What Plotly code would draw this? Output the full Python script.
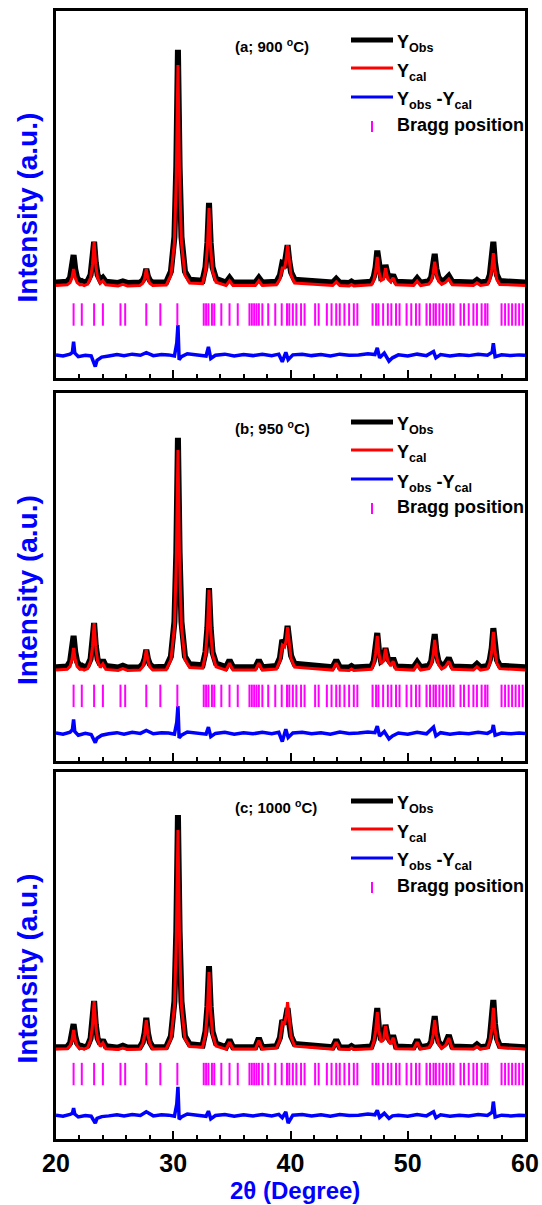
import plotly.graph_objects as go

# ---------------- data ----------------
X_PROF = [
    20.0, 20.95, 21.2, 21.36, 21.5, 21.64, 21.8, 22.05, 22.2, 22.4,
    22.7, 22.95, 23.11, 23.25, 23.39, 23.55, 23.78, 24.0, 24.25, 25.3,
    25.7, 26.1, 27.15, 27.4, 27.56, 27.7, 27.84, 28.0, 28.25, 29.4,
    29.8, 30.1, 30.26, 30.4, 30.54, 30.7, 31.0, 31.4, 32.5, 32.75,
    32.91, 33.05, 33.19, 33.35, 33.65, 34.5, 34.8, 35.1, 37.0, 37.3,
    37.6, 38.8, 39.1, 39.3, 39.5, 39.63, 39.75, 39.89, 40.05, 40.35,
    43.6, 43.9, 44.2, 45.0, 45.2, 45.4, 46.9, 47.1, 47.26, 47.4,
    47.54, 47.72, 47.95, 48.1, 48.3, 48.55, 48.75, 49.0, 50.5, 50.8,
    51.1, 51.8, 52.0, 52.16, 52.3, 52.44, 52.62, 52.9, 53.2, 53.5,
    53.8, 55.6, 55.9, 56.2, 56.8, 57.0, 57.16, 57.3, 57.44, 57.6,
    57.85, 60.0,
]

OBS_A = [
    26.0, 26.2, 27.3, 29.7, 33.5, 29.7, 27.3, 26.2, 26.4, 26.0,
    26.4, 28.1, 31.5, 37.1, 31.5, 28.1, 26.6, 27.3, 26.2, 25.9,
    26.3, 25.9, 26.0, 26.6, 27.7, 29.7, 27.7, 26.6, 26.0, 26.1,
    29.0, 38.5, 57.6, 89.4, 57.6, 38.5, 29.0, 26.8, 26.5, 30.2,
    36.8, 47.7, 36.8, 30.2, 27.0, 26.0, 27.3, 26.0, 26.0, 27.3,
    26.0, 26.2, 28.0, 31.3, 31.0, 33.0, 36.2, 32.0, 28.8, 26.8,
    26.0, 27.0, 26.0, 25.9, 26.3, 25.9, 26.2, 27.6, 30.2, 34.7,
    30.2, 27.6, 28.0, 30.8, 28.0, 27.0, 28.1, 26.2, 26.0, 27.2,
    26.0, 26.4, 27.4, 29.8, 33.8, 29.8, 27.4, 26.3, 26.8, 27.8,
    26.2, 26.0, 26.7, 26.0, 26.3, 28.1, 31.5, 37.1, 31.5, 28.1,
    26.4, 26.0,
]
CAL_A = [
    25.2, 25.4, 26.0, 27.3, 29.7, 27.3, 26.0, 25.4, 25.5, 25.2,
    25.6, 27.3, 30.8, 37.1, 30.8, 27.3, 25.8, 26.5, 25.4, 25.1,
    25.5, 25.1, 25.2, 25.8, 27.1, 29.7, 27.1, 25.8, 25.2, 25.3,
    28.0, 37.0, 55.0, 85.3, 55.0, 37.0, 28.0, 25.9, 25.7, 29.2,
    35.6, 46.3, 35.6, 29.2, 26.1, 25.2, 26.5, 25.2, 25.2, 26.5,
    25.2, 25.4, 27.0, 30.0, 30.0, 32.4, 36.2, 31.5, 28.0, 25.9,
    25.2, 26.2, 25.2, 25.1, 25.5, 25.1, 25.4, 26.6, 29.0, 33.0,
    29.0, 26.6, 27.0, 29.9, 27.0, 26.2, 27.3, 25.4, 25.2, 26.4,
    25.2, 25.6, 26.4, 28.4, 31.7, 28.4, 26.4, 25.5, 26.0, 27.0,
    25.4, 25.2, 25.9, 25.2, 25.5, 26.8, 29.5, 34.0, 29.5, 26.8,
    25.5, 25.2,
]
OBS_B = [
    25.5, 25.7, 27.0, 29.7, 34.0, 29.7, 27.0, 25.7, 25.9, 25.5,
    25.9, 27.7, 31.4, 37.5, 31.4, 27.7, 26.2, 27.4, 25.8, 25.4,
    25.9, 25.4, 25.5, 26.3, 27.8, 30.2, 27.8, 26.3, 25.5, 25.6,
    28.4, 37.8, 56.6, 87.8, 56.6, 37.8, 28.4, 26.3, 26.0, 29.6,
    36.2, 47.0, 36.2, 29.6, 26.5, 25.5, 27.4, 25.5, 25.5, 27.4,
    25.5, 25.8, 28.0, 32.9, 31.8, 33.4, 36.7, 32.2, 28.6, 26.4,
    25.5, 27.4, 25.5, 25.4, 25.8, 25.4, 25.7, 27.2, 30.1, 34.8,
    30.1, 27.2, 27.8, 30.7, 27.8, 26.6, 28.0, 25.7, 25.5, 26.9,
    25.5, 25.9, 27.1, 29.9, 34.5, 29.9, 27.1, 25.8, 26.4, 28.0,
    25.7, 25.5, 26.4, 25.5, 25.8, 27.5, 30.7, 36.1, 30.7, 27.5,
    25.9, 25.5,
]
CAL_B = [
    24.7, 24.9, 25.7, 27.6, 30.7, 27.6, 25.7, 24.9, 25.0, 24.7,
    25.1, 27.1, 31.0, 37.5, 31.0, 27.1, 25.4, 26.4, 24.9, 24.6,
    25.1, 24.6, 24.7, 25.6, 27.4, 30.2, 27.4, 25.6, 24.7, 24.8,
    27.5, 36.5, 54.5, 84.5, 54.5, 36.5, 27.5, 25.4, 25.2, 28.9,
    35.5, 46.5, 35.5, 28.9, 25.6, 24.7, 26.6, 24.7, 24.7, 26.6,
    24.7, 25.0, 27.2, 31.5, 31.0, 32.8, 36.4, 31.8, 27.8, 25.5,
    24.7, 26.6, 24.7, 24.6, 25.0, 24.6, 24.9, 26.4, 29.3, 34.0,
    29.3, 26.4, 27.2, 30.5, 27.2, 25.8, 27.1, 24.9, 24.7, 26.1,
    24.7, 25.1, 26.2, 28.7, 32.9, 28.7, 26.2, 25.0, 25.6, 27.1,
    24.9, 24.7, 25.6, 24.7, 25.0, 26.6, 29.8, 35.1, 29.8, 26.6,
    25.1, 24.7,
]
OBS_C = [
    25.0, 25.1, 26.1, 28.1, 31.3, 28.1, 26.1, 25.1, 25.3, 25.0,
    25.4, 27.4, 31.2, 37.6, 31.2, 27.4, 25.9, 27.0, 25.3, 24.9,
    25.4, 24.9, 25.0, 26.4, 28.9, 33.0, 28.9, 26.4, 25.0, 25.1,
    28.0, 37.5, 56.6, 88.3, 56.6, 37.5, 28.0, 25.8, 25.5, 29.3,
    36.0, 47.1, 36.0, 29.3, 26.0, 25.0, 27.0, 25.0, 25.0, 27.5,
    25.0, 25.3, 27.6, 32.4, 31.3, 32.8, 35.7, 31.6, 28.0, 25.9,
    25.0, 27.0, 25.0, 24.9, 25.3, 24.9, 25.2, 27.0, 30.3, 35.7,
    30.3, 27.0, 27.8, 31.1, 27.8, 26.4, 28.3, 25.2, 25.0, 27.0,
    25.0, 25.4, 26.5, 29.2, 33.5, 29.2, 26.5, 25.3, 26.0, 28.3,
    25.2, 25.0, 25.8, 25.0, 25.3, 27.4, 31.4, 37.9, 31.4, 27.4,
    25.4, 25.0,
]
CAL_C = [
    24.5, 24.6, 25.4, 27.0, 29.7, 27.0, 25.4, 24.6, 24.7, 24.5,
    24.9, 27.0, 31.0, 37.6, 31.0, 27.0, 25.2, 26.2, 24.6, 24.4,
    24.8, 24.4, 24.5, 26.0, 28.4, 32.4, 28.4, 26.0, 24.5, 24.6,
    27.3, 36.3, 54.3, 84.2, 54.3, 36.3, 27.3, 25.2, 25.0, 28.5,
    34.9, 45.5, 34.9, 28.5, 25.3, 24.5, 26.4, 24.5, 24.5, 26.8,
    24.5, 24.8, 27.0, 31.8, 31.5, 33.6, 37.3, 32.3, 27.9, 25.3,
    24.5, 26.4, 24.5, 24.4, 24.8, 24.4, 24.6, 26.4, 29.5, 34.6,
    29.5, 26.4, 27.2, 30.8, 27.2, 25.8, 27.6, 24.6, 24.5, 26.4,
    24.5, 24.9, 25.9, 28.4, 32.4, 28.4, 25.9, 24.7, 25.4, 27.5,
    24.6, 24.5, 25.2, 24.5, 24.8, 26.6, 30.0, 35.7, 30.0, 26.6,
    24.9, 24.5,
]

DIFF_X = [
    20.0, 20.6, 21.2, 21.4, 21.5, 21.6, 21.9, 22.5, 23.0, 23.2,
    23.35, 23.5, 23.9, 24.5, 25.2, 25.8, 26.5, 27.2, 27.7, 28.3,
    29.0, 29.6, 30.1, 30.3, 30.4, 30.5, 30.7, 31.2, 32.0, 32.8,
    33.0, 33.2, 33.6, 34.4, 35.2, 36.0, 36.8, 37.6, 38.4, 39.0,
    39.3, 39.6, 39.8, 40.2, 41.0, 41.8, 42.6, 43.4, 44.2, 45.0,
    45.8, 46.6, 47.2, 47.4, 47.6, 48.0, 48.4, 48.7, 49.2, 50.0,
    50.8, 51.6, 52.2, 52.4, 52.8, 53.6, 54.4, 55.2, 56.0, 56.8,
    57.2, 57.3, 57.45, 58.0, 58.8, 59.5, 60.0,
]
DIFF_A = [
    6.3, 6.0, 6.5, 7.0, 9.9, 6.8, 5.8, 6.2, 6.0, 4.5,
    3.1, 4.8, 5.7, 6.0, 6.4, 6.1, 6.5, 6.2, 6.9, 6.1,
    6.4, 6.3, 6.0, 9.5, 14.4, 5.0, 5.8, 6.6, 6.3, 6.0,
    8.5, 5.3, 6.2, 6.5, 6.0, 6.4, 6.1, 6.5, 6.1, 6.5,
    4.4, 7.0, 5.0, 6.3, 6.5, 6.1, 6.4, 6.0, 6.5, 6.2,
    6.3, 6.6, 6.4, 8.2, 5.5, 6.8, 4.6, 5.5, 6.3, 6.0,
    6.5, 6.1, 7.2, 5.5, 6.4, 6.0, 6.3, 6.1, 6.5, 6.2,
    7.0, 9.5, 5.8, 6.3, 6.1, 6.3, 6.2,
]
DIFF_B = [
    7.6, 7.3, 7.8, 8.5, 11.3, 8.0, 7.0, 7.5, 7.2, 6.0,
    5.0, 6.2, 7.0, 7.4, 7.7, 7.3, 7.8, 7.5, 8.3, 7.4,
    7.7, 7.6, 7.3, 10.5, 14.9, 6.3, 7.0, 7.9, 7.6, 7.3,
    9.2, 6.6, 7.5, 7.8, 7.3, 7.7, 7.4, 7.8, 7.4, 7.8,
    5.3, 8.6, 6.4, 7.6, 7.8, 7.4, 7.7, 7.3, 7.9, 7.5,
    7.6, 7.9, 7.7, 9.5, 6.8, 8.0, 6.0, 6.8, 7.6, 7.3,
    7.8, 7.4, 9.2, 6.8, 7.7, 7.3, 7.6, 7.4, 7.8, 7.5,
    8.2, 9.8, 7.0, 7.6, 7.4, 7.6, 7.5,
]
DIFF_C = [
    6.5, 6.2, 6.7, 7.0, 8.4, 6.8, 6.0, 6.4, 6.2, 5.2,
    4.3, 5.6, 6.1, 6.3, 6.6, 6.3, 6.7, 6.4, 7.4, 6.3,
    6.6, 6.5, 6.2, 9.5, 14.2, 5.4, 6.0, 6.8, 6.5, 6.2,
    7.6, 5.5, 6.4, 6.7, 6.2, 6.6, 6.3, 6.7, 6.3, 6.7,
    5.8, 7.4, 4.3, 6.5, 6.7, 6.3, 6.6, 6.2, 6.7, 6.4,
    6.5, 6.8, 6.6, 7.8, 5.9, 7.0, 5.6, 6.3, 6.5, 6.2,
    6.7, 6.3, 7.4, 5.8, 6.6, 6.2, 6.5, 6.3, 6.7, 6.4,
    7.3, 10.2, 6.0, 6.5, 6.3, 6.5, 6.4,
]

BRAGG_POS = [
    21.5, 22.2, 23.25, 24.0, 25.5, 25.9, 27.7, 28.9, 30.35, 32.6,
    32.8, 33.0, 33.3, 33.5, 34.1, 34.8, 35.5, 36.5, 36.7, 36.9,
    37.1, 37.3, 37.6, 38.1, 38.7, 39.25, 39.7, 39.9, 40.2, 40.5,
    40.9, 41.2, 42.1, 42.4, 43.1, 43.5, 43.9, 44.2, 44.6, 45.0,
    45.4, 45.7, 47.0, 47.3, 47.5, 47.9, 48.3, 48.6, 49.0, 49.3,
    49.9, 50.3, 50.7, 51.0, 51.6, 51.9, 52.2, 52.4, 52.7, 53.0,
    53.3, 53.6, 53.9, 54.5, 54.8, 55.2, 55.6, 55.9, 56.3, 56.6,
    56.8, 58.0, 58.3, 58.6, 58.9, 59.2, 59.5, 59.8,
]
BRAGG_LEVEL = [17.3, 17.7, 17.7]

PANEL_LABELS = ["(a; 900 <sup>o</sup>C)", "(b; 950 <sup>o</sup>C)", "(c; 1000 <sup>o</sup>C)"]
LEGEND_NAMES = ["Y<sub>Obs</sub>", "Y<sub>cal</sub>", "Y<sub>obs</sub> -Y<sub>cal</sub>", "Bragg position"]
X_TICKS = [20, 30, 40, 50, 60]
X_TITLE = "2θ (Degree)"
Y_TITLE = "Intensity (a.u.)"

OBS = [OBS_A, OBS_B, OBS_C]
CAL = [CAL_A, CAL_B, CAL_C]
DIFF = [DIFF_A, DIFF_B, DIFF_C]

# ---------------- layout geometry (pixels) ----------------
W, H = 542, 1205
PL, PR = 56, 525
PT, PB = 11, 1139
PANELS_PX = [(11, 378), (393, 761), (772, 1139)]

FONT = "Liberation Sans, Arial, sans-serif"
BLUE = "#0000ff"
MAGENTA = "#ff00ff"


def px_x(px):
    return (px - PL) / (PR - PL)


def px_y(py):
    return (PB - py) / (PB - PT)


fig = go.Figure()
annotations = []
shapes = []

for i in range(3):
    s = "" if i == 0 else str(i + 1)
    xa, ya = "x" + s, "y" + s
    fig.add_trace(go.Scatter(x=X_PROF, y=OBS[i], mode="lines",
                             line=dict(color="black", width=6),
                             xaxis=xa, yaxis=ya, showlegend=False))
    fig.add_trace(go.Scatter(x=X_PROF, y=CAL[i], mode="lines",
                             line=dict(color="#ff0000", width=3),
                             xaxis=xa, yaxis=ya, showlegend=False))
    fig.add_trace(go.Scatter(x=DIFF_X, y=DIFF[i], mode="lines",
                             line=dict(color=BLUE, width=3.5),
                             xaxis=xa, yaxis=ya, showlegend=False))
    fig.add_trace(go.Scatter(x=BRAGG_POS, y=[BRAGG_LEVEL[i]] * len(BRAGG_POS),
                             mode="markers",
                             marker=dict(symbol="line-ns", size=16,
                                         line=dict(color=MAGENTA, width=2)),
                             xaxis=xa, yaxis=ya, showlegend=False))

    top, bot = PANELS_PX[i]
    fig.layout["xaxis" + s] = dict(
        range=[20, 60], domain=[0, 1], anchor=ya, automargin=False,
        showline=True, mirror=True, linecolor="black", linewidth=3,
        ticks="inside", ticklen=8, tickwidth=2, tickcolor="black",
        tickmode="array", tickvals=X_TICKS,
        minor=dict(dtick=2, tick0=20, ticks="inside", ticklen=4, tickwidth=2, tickcolor="black"),
        showgrid=False, zeroline=False,
        showticklabels=(i == 2),
        tickfont=dict(family=FONT, size=25, color="black", weight="bold"),
    )
    fig.layout["yaxis" + s] = dict(
        range=[0, 100], domain=[px_y(bot), px_y(top)], anchor=xa, automargin=False,
        showline=True, mirror=True, linecolor="black", linewidth=3,
        ticks="", showticklabels=False, showgrid=False, zeroline=False,
    )

    # y title
    annotations.append(dict(
        text="<b>" + Y_TITLE + "</b>", xref="paper", yref="paper",
        x=px_x(27), y=px_y((top + bot) / 2 + 13), textangle=-90,
        showarrow=False, xanchor="center", yanchor="middle",
        font=dict(family=FONT, size=28, color=BLUE)))
    # panel label
    annotations.append(dict(
        text="<b>" + PANEL_LABELS[i] + "</b>", xref="paper", yref="paper",
        x=px_x(233), y=px_y(top + 34), showarrow=False,
        xanchor="left", yanchor="middle",
        font=dict(family=FONT, size=15, color="black")))

    # legend (drawn manually)
    rows = [top + 29, top + 57, top + 86]
    colors = ["black", "#ff0000", BLUE]
    widths = [5, 3, 3]
    for r, c, w in zip(rows, colors, widths):
        shapes.append(dict(type="line", xref="paper", yref="paper",
                           x0=px_x(351), x1=px_x(393), y0=px_y(r), y1=px_y(r),
                           line=dict(color=c, width=w)))
    shapes.append(dict(type="line", xref="paper", yref="paper",
                       x0=px_x(372), x1=px_x(372), y0=px_y(top + 110), y1=px_y(top + 121),
                       line=dict(color=MAGENTA, width=2)))
    text_y = [top + 32, top + 61, top + 90, top + 114]
    for name, ty in zip(LEGEND_NAMES, text_y):
        annotations.append(dict(
            text="<b>" + name + "</b>", xref="paper", yref="paper",
            x=px_x(395), y=px_y(ty), showarrow=False,
            xanchor="left", yanchor="middle",
            font=dict(family=FONT, size=18, color="black")))

# x title
annotations.append(dict(
    text="<b>" + X_TITLE + "</b>", xref="paper", yref="paper",
    x=px_x(295), y=px_y(1205), showarrow=False,
    xanchor="center", yanchor="bottom", borderpad=0,
    font=dict(family=FONT, size=24, color=BLUE)))

fig.update_layout(
    width=W, height=H,
    margin=dict(l=PL, r=W - PR, t=PT, b=H - PB, autoexpand=False),
    paper_bgcolor="white", plot_bgcolor="white",
    showlegend=False,
    annotations=annotations, shapes=shapes,
    font=dict(family=FONT),
)

fig.write_html("out.html")
